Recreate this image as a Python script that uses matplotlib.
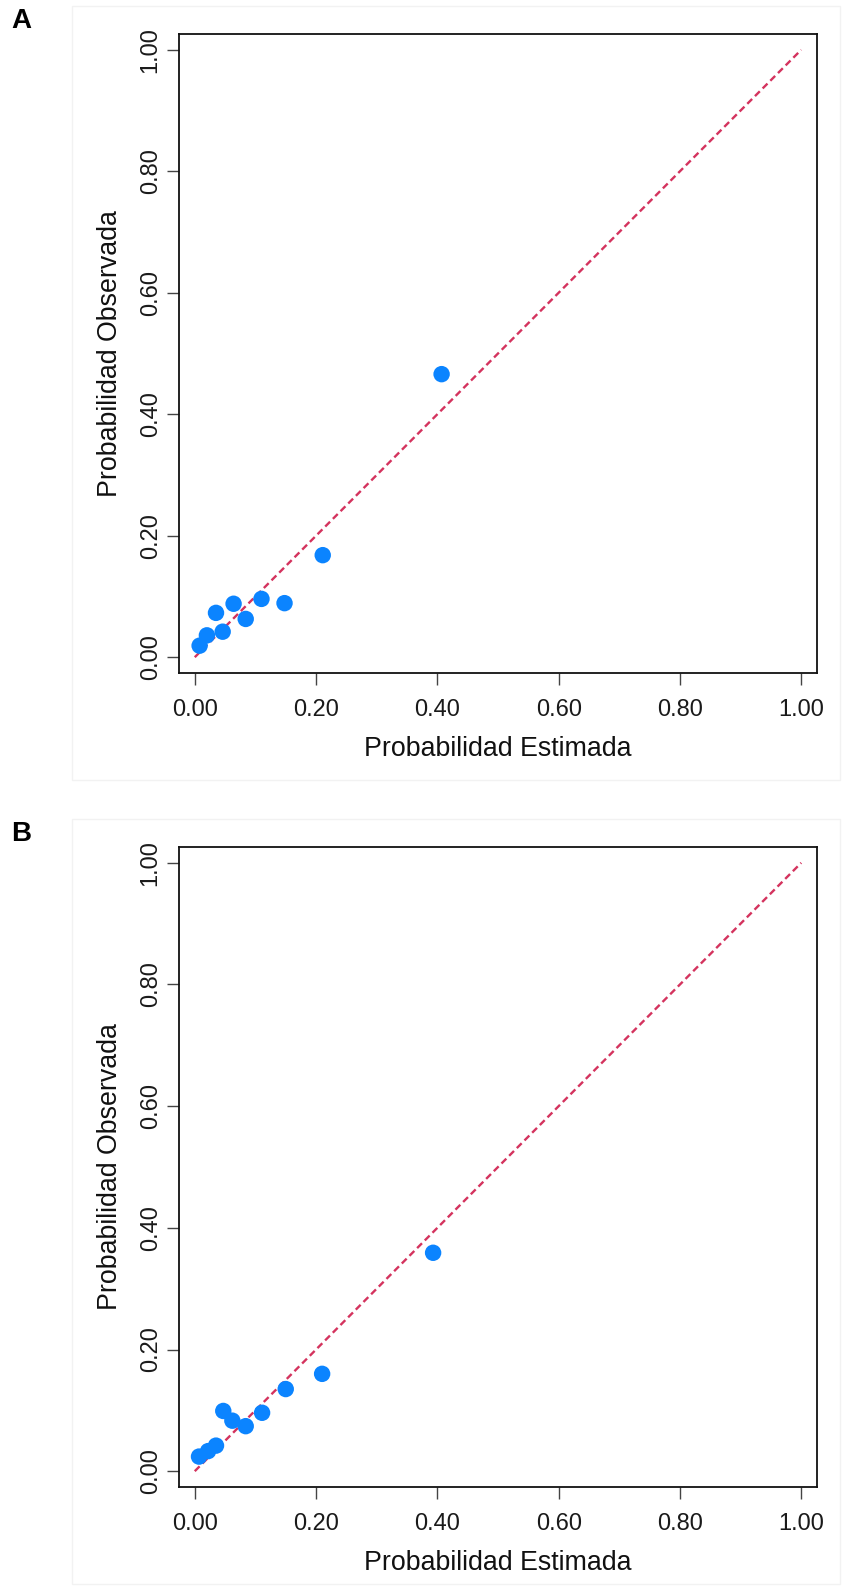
import matplotlib
matplotlib.use("Agg")
import matplotlib.pyplot as plt
from matplotlib.patches import Rectangle

plt.rcParams['font.family'] = ['Liberation Sans', 'DejaVu Sans']

# Panel A data (estimated vs observed probability)
est_a = [0.008, 0.020, 0.035, 0.046, 0.064, 0.084, 0.110, 0.148, 0.211, 0.407]
obs_a = [0.019, 0.036, 0.073, 0.042, 0.088, 0.063, 0.096, 0.089, 0.168, 0.466]
# Panel B data
est_b = [0.007, 0.022, 0.035, 0.047, 0.062, 0.084, 0.111, 0.150, 0.210, 0.393]
obs_b = [0.024, 0.033, 0.042, 0.099, 0.083, 0.074, 0.096, 0.135, 0.160, 0.359]

ticks = [0.0, 0.2, 0.4, 0.6, 0.8, 1.0]
tick_labels = ["0.00", "0.20", "0.40", "0.60", "0.80", "1.00"]
xlabel = "Probabilidad Estimada"
ylabel = "Probabilidad Observada"
panels = ["A", "B"]

W, H = 843, 1587
fig = plt.figure(figsize=(W / 100, H / 100), dpi=100)

def px_axes(left, top, right, bottom):
    return fig.add_axes([left / W, 1 - bottom / H, (right - left) / W, (bottom - top) / H])

def frame(left, top, right, bottom):
    fig.patches.append(Rectangle((left / W, 1 - bottom / H), (right - left) / W, (bottom - top) / H,
                                 transform=fig.transFigure, fill=False, edgecolor='#f2f2f2', lw=1))

layout = [(179, 34, 817, 673), (179, 847, 817, 1487)]
frames = [(72, 6, 840, 780), (72, 819, 840, 1584)]
letters_y = [21, 834]
data = [(est_a, obs_a), (est_b, obs_b)]

for (l, t, r, b), fr, ly, (ex, ob), name in zip(layout, frames, letters_y, data, panels):
    frame(*fr)
    ax = px_axes(l, t, r, b)
    ax.plot([0, 1], [0, 1], linestyle=(0, (2.9, 1.7)), color='#d4335e', lw=1.7, zorder=2)
    ax.scatter(ex, ob, s=140, color='#0b84ff', edgecolors='none', zorder=3)
    ax.set_xlim(-0.026, 1.026)
    ax.set_ylim(-0.026, 1.026)
    ax.set_xticks(ticks)
    ax.set_xticklabels(tick_labels)
    ax.set_yticks(ticks)
    ax.set_yticklabels(tick_labels, rotation=90, va='center')
    ax.tick_params(axis='both', length=8.5, width=1.0, color='#444444', labelsize=17,
                   labelcolor='#1a1a1a')
    ax.tick_params(axis='x', pad=10)
    ax.tick_params(axis='y', pad=4)
    for s in ax.spines.values():
        s.set_linewidth(1.3)
        s.set_color('#111111')
    ax.set_xlabel(xlabel, fontsize=19.3, color='#111111', labelpad=11)
    ax.set_ylabel(ylabel, fontsize=19.3, color='#111111', labelpad=12)
    fig.text(21 / W, 1 - ly / H, name, fontsize=20, fontweight='bold', ha='center', va='center')

fig.savefig("out.png", dpi=100)
